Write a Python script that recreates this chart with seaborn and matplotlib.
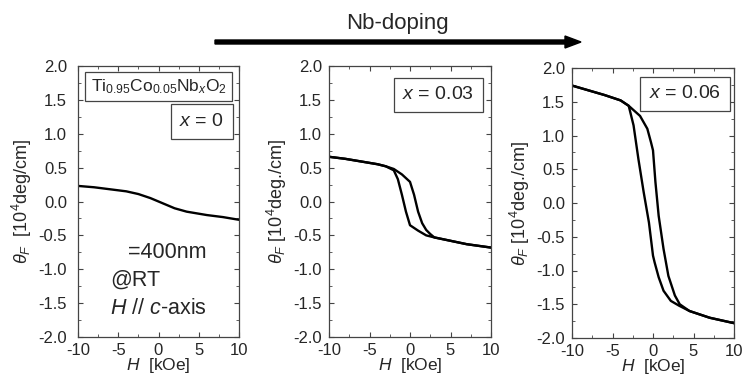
import matplotlib
matplotlib.use("Agg")
import matplotlib.pyplot as plt
import numpy as np
import pandas as pd
import seaborn as sns
from matplotlib.ticker import MultipleLocator

# data (H in kOe, theta_F in 10^4 deg/cm)
h_x0 = [-10, -8, -6, -4, -2.5, -1, 0, 1, 2, 3.5, 5, 6, 8, 10]
th_x0 = [0.23, 0.21, 0.18, 0.15, 0.11, 0.05, 0.0, -0.05, -0.10, -0.15, -0.18, -0.20, -0.23, -0.27]

h_x3_down = [-10, -8, -6, -4, -3, -2, -1.5, -1, -0.5, 0, 1, 2, 3, 5, 7, 10]
th_x3_down = [0.66, 0.63, 0.59, 0.55, 0.52, 0.46, 0.33, 0.1, -0.15, -0.35, -0.43, -0.50, -0.53, -0.58, -0.63, -0.68]
h_x3_up = [-10, -8, -6, -4, -3, -2, -1, 0, 0.5, 1, 1.5, 2, 2.5, 3, 5, 7, 10]
th_x3_up = [0.66, 0.63, 0.59, 0.55, 0.52, 0.48, 0.40, 0.29, 0.10, -0.15, -0.32, -0.42, -0.48, -0.53, -0.58, -0.63, -0.68]

h_x6_down = [-10, -8, -6, -4, -3, -2.4, -1.8, -1.15, -0.5, 0, 0.2, 0.7, 1.3, 2.2, 3.2, 4.5, 7, 10]
th_x6_down = [1.74, 1.67, 1.60, 1.52, 1.44, 1.15, 0.65, 0.16, -0.29, -0.78, -0.88, -1.10, -1.30, -1.45, -1.52, -1.60, -1.70, -1.78]
h_x6_up = [-10, -8, -6, -4, -3, -1.6, -0.7, -0.25, 0, 0.3, 0.7, 1.3, 1.9, 2.7, 3.3, 4.5, 7, 10]
th_x6_up = [1.74, 1.67, 1.60, 1.52, 1.44, 1.29, 1.10, 0.90, 0.78, 0.31, -0.19, -0.68, -1.08, -1.37, -1.50, -1.60, -1.70, -1.78]

labels = ["$x$ = 0", "$x$ = 0.03", "$x$ = 0.06"]
ylabels = [r"$\theta_F$  [10$^4$deg/cm]", r"$\theta_F$ [10$^4$deg./cm]", r"$\theta_F$ [10$^4$deg./cm]"]
label_pos = [(0.909, 0.795), (0.897, 0.893), (0.92, 0.904)]

sns.set_theme(style="ticks")
plt.rcParams['font.family'] = ['Liberation Sans', 'DejaVu Sans']
plt.rcParams['mathtext.fontset'] = 'custom'
plt.rcParams['mathtext.rm'] = 'Liberation Sans'
plt.rcParams['mathtext.it'] = 'Liberation Sans:italic'
plt.rcParams['axes.unicode_minus'] = False

fig = plt.figure(figsize=(7.44, 3.77), dpi=100)
W, Hf = 744, 377
boxes = [(78, 66, 239, 337), (329, 66, 491, 337), (572, 68, 734, 338)]
axes = []
for (l, t, r, b) in boxes:
    axes.append(fig.add_axes([l / W, 1 - b / Hf, (r - l) / W, (b - t) / Hf]))

curves = [
    [(h_x0, th_x0)],
    [(h_x3_down, th_x3_down), (h_x3_up, th_x3_up)],
    [(h_x6_down, th_x6_down), (h_x6_up, th_x6_up)],
]

for i, ax in enumerate(axes):
    for hh, tt in curves[i]:
        df = pd.DataFrame({"H": hh, "theta": tt})
        sns.lineplot(data=df, x="H", y="theta", sort=False, color="black",
                     linewidth=1.7, ax=ax, estimator=None)
    ax.set_xlim(-10, 10)
    ax.set_ylim(-2.0, 2.0)
    ax.xaxis.set_major_locator(MultipleLocator(5))
    ax.xaxis.set_minor_locator(MultipleLocator(2.5))
    ax.yaxis.set_minor_locator(MultipleLocator(0.25))
    ax.set_yticks(np.arange(-2.0, 2.01, 0.5))
    ax.set_yticklabels([f"{v:.1f}" for v in np.arange(-2.0, 2.01, 0.5)])
    ax.tick_params(which="both", direction="in", top=True, right=True,
                   labelsize=12, color="#444444")
    ax.tick_params(axis="x", pad=4)
    ax.tick_params(axis="y", pad=8 if i == 0 else 5)
    ax.tick_params(which="major", length=3.5, width=0.8)
    ax.tick_params(which="minor", length=2, width=0.6)
    for s in ax.spines.values():
        s.set_color("#444444")
        s.set_linewidth(0.9)
    ax.set_xlabel("$H$  [kOe]", fontsize=12.5, labelpad=-1)
    ax.set_ylabel(ylabels[i], fontsize=13, labelpad=3)
    ax.text(label_pos[i][0], label_pos[i][1], labels[i], transform=ax.transAxes,
            ha="right", va="center", fontsize=14,
            bbox=dict(boxstyle="square,pad=0.45", fc="white", ec="#444444", lw=0.9))

axes[0].text(0.5, 0.925, r"Ti$_{0.95}$Co$_{0.05}$Nb$_{x}$O$_{2}$", transform=axes[0].transAxes,
             ha="center", va="center", fontsize=12.5,
             bbox=dict(boxstyle="square,pad=0.3", fc="white", ec="#444444", lw=0.9))
axes[0].text(0.31, 0.31, "=400nm", transform=axes[0].transAxes, ha="left", va="center", fontsize=15.5)
axes[0].text(0.20, 0.21, "@RT", transform=axes[0].transAxes, ha="left", va="center", fontsize=15.5)
axes[0].text(0.20, 0.105, "$H$ // $c$-axis", transform=axes[0].transAxes, ha="left", va="center", fontsize=15.5)

fig.patches.append(matplotlib.patches.FancyArrow(
    215 / W, 1 - 42 / Hf, 350 / W, 0, width=4 / Hf, head_width=12 / Hf,
    head_length=16 / W, length_includes_head=False, color="black",
    transform=fig.transFigure, figure=fig))
fig.text(397 / W, 1 - 23 / Hf, "Nb-doping", ha="center", va="center", fontsize=16)

fig.savefig("out.png", dpi=100)
